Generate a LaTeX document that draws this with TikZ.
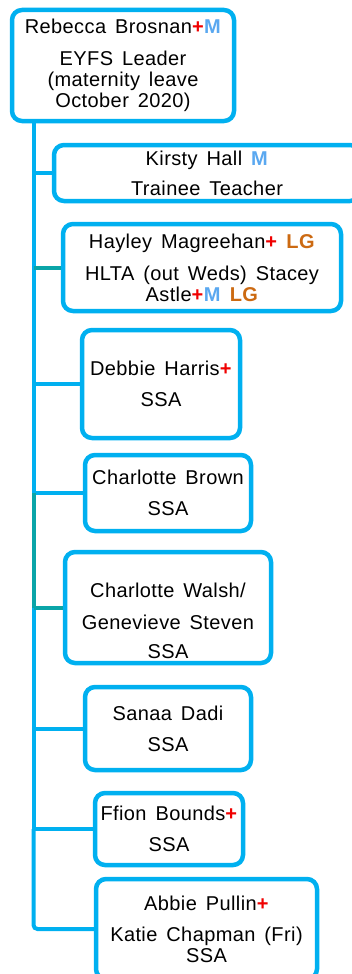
\documentclass[tikz,border=0pt]{standalone}
\usepackage{fontspec}
\setmainfont[LetterSpace=2.0, WordSpace=1.5]{Liberation Sans}

\definecolor{boxblue}{HTML}{00B0F0}
\definecolor{lineteal}{HTML}{0AA5A8}
\definecolor{plusred}{HTML}{F00000}
\definecolor{mblue}{HTML}{5AA8F0}
\definecolor{lgorange}{HTML}{CC6A12}

\newcommand{\redplus}{\textcolor{plusred}{\textbf{+}}}
\newcommand{\mtag}{\textcolor{mblue}{\textbf{M}}}
\newcommand{\lgtag}{\textcolor{lgorange}{\textbf{LG}}}

\begin{document}
\begin{tikzpicture}[x=1pt, y=-1pt, line width=4pt]
   \useasboundingbox (0,0) rectangle (352,974);
   \begin{scope}[every node/.style={draw=boxblue, line width=4.5pt, rounded corners=10pt, fill=white, align=center, inner sep=0pt, font=\fontsize{20}{21}\selectfont}]
    \node[minimum width=222pt, minimum height=111pt] (lead) at (123,65.5) {Rebecca Brosnan\redplus\mtag\\[11pt]EYFS Leader\\(maternity leave\\October 2020)};
    \node[minimum width=306pt, minimum height=56pt] (kirsty) at (207,173) {Kirsty Hall \mtag\\[9pt]Trainee Teacher};
    \node[minimum width=278pt, minimum height=87pt] (hayley) at (202,267.5) {Hayley Magreehan\redplus{} \lgtag\\[11pt]HLTA (out Weds) Stacey\\Astle\redplus\mtag{} \lgtag};
    \node[minimum width=158pt, minimum height=108pt] (debbie) at (161,384) {Debbie Harris\redplus\\[10pt]SSA};
    \node[minimum width=166pt, minimum height=76pt] (brown) at (168,493) {Charlotte Brown\\[10pt]SSA};
    \node[minimum width=206pt, minimum height=111pt] (walsh) at (168,607.5) {};
    \node[draw=none, fill=none] (walshtext) at (168,621) {Charlotte Walsh/\\[11pt]Genevieve Steven\\[8pt]SSA};
    \node[minimum width=166pt, minimum height=83pt] (sanaa) at (168,728.5) {Sanaa Dadi\\[10pt]SSA};
    \node[minimum width=148pt, minimum height=72pt] (ffion) at (169,829) {Ffion Bounds\redplus\\[10pt]SSA};
    \node[minimum width=221pt, minimum height=100pt] (abbie) at (206.5,929) {Abbie Pullin\redplus\\[10pt]Katie Chapman (Fri)\\SSA};
   \end{scope}
   \begin{scope}[every edge/.style={draw=boxblue, line width=4pt}]
    \coordinate (t0) at (33.5,121);
    \coordinate (t1) at (33.5,173);
    \coordinate (t2) at (33.5,267.5);
    \coordinate (t3) at (33.5,384);
    \coordinate (t4) at (33.5,493);
    \coordinate (t5) at (33.5,607.5);
    \coordinate (t6) at (33.5,728.5);
    \coordinate (t7) at (33.5,829);
    \draw (t0) edge (t1);
    \draw (t1) edge (t2);
    \draw (t2) edge (t3);
    \draw (t3) edge (t4);
    \draw (t5) edge (t6);
    \draw (t6) edge (t7);
    \draw (t1) edge (kirsty.west);
    \draw (t3) edge (debbie.west);
    \draw (t4) edge (brown.west);
    \draw (t6) edge (sanaa.west);
    \draw (t7) edge (ffion.west);
    \draw (t2) edge[draw=lineteal] (hayley.west);
    \draw (t4) edge[draw=lineteal] (t5);
    \draw (t5) edge[draw=lineteal] (walsh.west);
    \draw[boxblue, rounded corners=4pt] (t7) |- (abbie.west);
   \end{scope}
\end{tikzpicture}
\end{document}
